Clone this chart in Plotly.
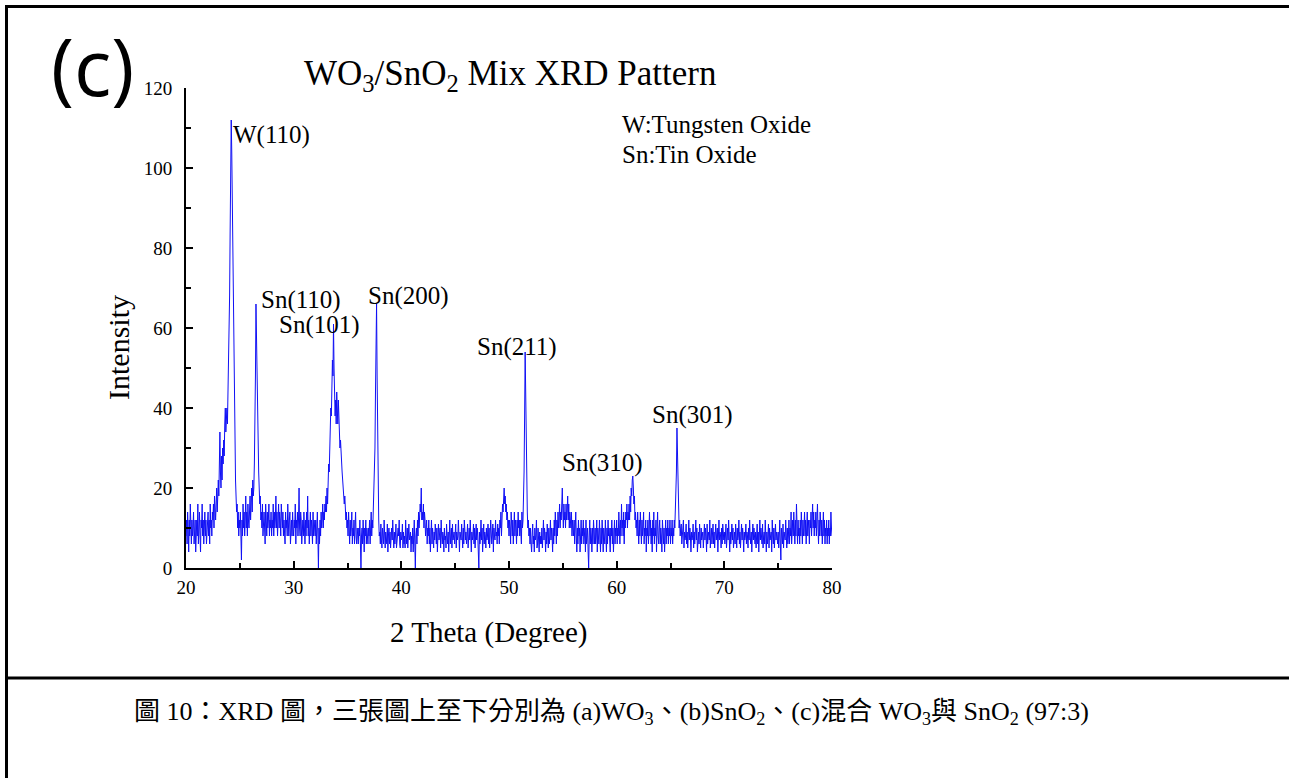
import plotly.graph_objects as go

# ---------------- data ----------------
# intensity sampled every 0.05 degree of 2-theta, one row per degree
two_theta_start = 20.0
two_theta_step = 0.05
intensity = [
    8, 12, 6, 14, 10, 4, 12, 8, 16, 10, 6, 12, 8, 10, 14, 6, 10, 12, 4, 10,          # 20
    12, 8, 16, 6, 10, 14, 8, 4, 12, 10, 16, 8, 12, 6, 10, 14, 8, 12, 6, 10,          # 21
    10, 14, 8, 12, 6, 16, 10, 12, 8, 14, 12, 16, 10, 18, 14, 12, 16, 20, 14, 18,     # 22
    22, 18, 26, 34, 24, 20, 28, 22, 30, 26, 32, 28, 36, 40, 34, 38, 40, 36, 44, 48,  # 23
    54, 68, 84, 100, 112, 104, 92, 78, 62, 48, 36, 28, 22, 18, 14, 16, 10, 14, 8, 12,  # 24
    10, 14, 6, 2, 12, 8, 16, 10, 14, 8, 12, 18, 10, 14, 8, 16, 12, 10, 14, 18,       # 25
    12, 16, 20, 14, 22, 18, 20, 26, 34, 48, 66, 56, 44, 36, 30, 24, 20, 16, 18, 12,  # 26
    14, 10, 16, 8, 12, 14, 10, 6, 16, 12, 8, 14, 10, 12, 16, 8, 12, 10, 14, 8,       # 27
    12, 10, 16, 8, 14, 10, 12, 18, 10, 14, 8, 12, 16, 10, 14, 12, 8, 16, 12, 10,     # 28
    14, 8, 12, 10, 6, 14, 10, 12, 8, 16, 10, 8, 12, 14, 6, 10, 12, 8, 14, 10,        # 29
    8, 12, 10, 16, 6, 12, 10, 14, 8, 12, 20, 10, 8, 14, 12, 6, 10, 12, 8, 14,        # 30
    10, 6, 12, 8, 14, 10, 18, 8, 12, 6, 10, 14, 8, 12, 10, 6, 14, 8, 12, 10,         # 31
    8, 12, 6, 10, 14, 8, 0, 10, 6, 12, 8, 14, 10, 12, 16, 10, 14, 12, 16, 14,        # 32
    18, 14, 20, 16, 22, 26, 24, 30, 34, 40, 38, 46, 52, 48, 61, 50, 44, 38, 42, 36,  # 33
    44, 40, 36, 42, 38, 34, 30, 32, 28, 26, 24, 22, 20, 18, 16, 18, 14, 12, 14, 10,  # 34
    12, 8, 14, 10, 6, 12, 8, 10, 14, 6, 10, 8, 12, 6, 10, 14, 8, 6, 10, 8,           # 35
    6, 10, 8, 12, 4, 0, 8, 10, 6, 12, 8, 4, 10, 8, 12, 6, 10, 8, 6, 10,              # 36
    8, 12, 6, 10, 14, 8, 12, 10, 16, 14, 20, 30, 44, 58, 66, 48, 30, 18, 12, 8,      # 37
    9, 6, 11, 7, 5, 10, 8, 6, 12, 7, 5, 9, 8, 6, 11, 4, 8, 10, 6, 9,                 # 38
    5, 8, 10, 7, 12, 8, 5, 9, 6, 8, 11, 5, 8, 7, 10, 8, 12, 6, 5, 9,                 # 39
    7, 8, 11, 5, 9, 6, 8, 5, 12, 8, 6, 10, 5, 8, 11, 7, 8, 9, 4, 8,                  # 40
    6, 10, 4, 8, 12, 6, 0, 8, 10, 6, 12, 8, 14, 10, 12, 16, 14, 20, 12, 14,          # 41
    12, 16, 10, 14, 12, 8, 10, 12, 6, 10, 8, 12, 6, 10, 4, 8, 12, 6, 10, 8,          # 42
    5, 9, 7, 11, 8, 6, 10, 4, 8, 11, 7, 8, 10, 5, 12, 8, 6, 9, 8, 4,                 # 43
    10, 7, 8, 5, 11, 8, 6, 9, 4, 8, 12, 6, 8, 10, 5, 11, 7, 8, 9, 6,                 # 44
    8, 11, 5, 9, 7, 8, 12, 6, 4, 9, 8, 7, 11, 8, 5, 10, 6, 12, 8, 7,                 # 45
    9, 6, 8, 11, 5, 8, 10, 7, 12, 8, 4, 9, 7, 8, 11, 6, 10, 5, 8, 11,                # 46
    7, 10, 8, 5, 0, 9, 6, 8, 12, 7, 10, 4, 8, 11, 6, 9, 8, 5, 10, 7,                 # 47
    8, 11, 6, 10, 5, 8, 12, 9, 6, 8, 11, 4, 10, 8, 7, 12, 8, 9, 6, 11,               # 48
    8, 10, 6, 12, 10, 14, 8, 12, 16, 14, 18, 20, 16, 18, 14, 16, 12, 14, 10, 12,     # 49
    8, 12, 10, 6, 14, 10, 8, 12, 6, 10, 14, 8, 12, 10, 6, 12, 8, 14, 10, 12,         # 50
    8, 12, 10, 6, 14, 10, 12, 16, 24, 38, 54, 44, 30, 20, 14, 10, 12, 8, 10, 6,      # 51
    10, 6, 4, 8, 11, 6, 8, 4, 10, 7, 8, 12, 5, 6, 10, 8, 4, 9, 6, 8,                 # 52
    6, 10, 5, 8, 12, 7, 10, 8, 4, 9, 6, 11, 8, 5, 10, 6, 8, 12, 7, 10,               # 53
    8, 4, 10, 6, 12, 8, 14, 10, 6, 12, 8, 14, 10, 12, 16, 10, 14, 12, 16, 20,        # 54
    14, 10, 16, 12, 14, 10, 16, 12, 14, 18, 12, 16, 10, 14, 12, 10, 14, 8, 12, 10,   # 55
    8, 12, 6, 10, 14, 8, 4, 10, 6, 12, 8, 10, 4, 8, 12, 6, 10, 8, 12, 6,             # 56
    8, 10, 4, 12, 6, 8, 10, 4, 0, 8, 12, 6, 10, 8, 4, 10, 6, 12, 8, 6,               # 57
    10, 6, 8, 12, 4, 10, 8, 6, 12, 8, 4, 10, 6, 12, 8, 4, 10, 8, 6, 12,              # 58
    8, 4, 10, 6, 12, 8, 10, 6, 4, 10, 8, 12, 6, 10, 4, 8, 12, 6, 10, 8,              # 59
    12, 6, 10, 8, 14, 10, 6, 12, 8, 16, 10, 12, 8, 14, 6, 12, 10, 14, 12, 16,        # 60
    10, 14, 12, 16, 12, 18, 14, 20, 18, 22, 23, 20, 16, 18, 12, 14, 10, 12, 8, 14,   # 61
    10, 6, 12, 8, 14, 10, 6, 12, 8, 10, 14, 6, 10, 8, 12, 4, 10, 8, 12, 6,           # 62
    10, 14, 8, 12, 6, 10, 4, 12, 8, 14, 6, 10, 8, 12, 4, 10, 14, 8, 6, 10,           # 63
    12, 6, 10, 8, 4, 12, 8, 6, 10, 4, 8, 12, 6, 10, 8, 12, 6, 10, 8, 12,             # 64
    6, 10, 8, 12, 6, 10, 8, 12, 10, 14, 18, 24, 35, 28, 20, 14, 10, 12, 8, 10,       # 65
    11, 6, 9, 8, 12, 5, 9, 7, 8, 11, 6, 9, 5, 8, 12, 7, 10, 8, 4, 9,                 # 66
    7, 8, 11, 5, 9, 6, 8, 12, 7, 10, 4, 8, 9, 6, 11, 8, 5, 10, 7, 8,                 # 67
    9, 5, 8, 11, 7, 10, 8, 4, 11, 6, 8, 9, 7, 12, 5, 8, 10, 6, 8, 11,                # 68
    6, 9, 5, 8, 11, 7, 8, 10, 4, 8, 12, 7, 9, 8, 5, 10, 6, 11, 8, 7,                 # 69
    9, 6, 8, 11, 5, 8, 10, 7, 12, 8, 4, 9, 6, 8, 11, 7, 10, 5, 8, 9,                 # 70
    6, 11, 8, 5, 10, 7, 8, 12, 6, 9, 5, 8, 11, 7, 10, 8, 4, 9, 7, 8,                 # 71
    11, 6, 9, 8, 5, 10, 7, 12, 8, 6, 9, 4, 8, 11, 7, 10, 8, 6, 9, 5,                 # 72
    8, 11, 6, 9, 4, 8, 12, 7, 10, 8, 6, 11, 5, 8, 9, 6, 12, 8, 4, 9,                 # 73
    6, 8, 11, 5, 10, 7, 8, 9, 4, 12, 8, 6, 10, 5, 8, 11, 7, 9, 8, 6,                 # 74
    9, 5, 8, 12, 6, 2, 10, 8, 6, 11, 5, 9, 8, 7, 12, 8, 5, 10, 6, 8,                 # 75
    12, 6, 10, 8, 14, 6, 10, 12, 8, 14, 10, 6, 12, 8, 16, 10, 6, 12, 8, 10,          # 76
    6, 12, 8, 14, 10, 6, 12, 8, 10, 14, 8, 12, 6, 10, 14, 8, 12, 10, 6, 12,          # 77
    10, 14, 8, 12, 16, 10, 14, 8, 12, 10, 14, 8, 12, 16, 10, 6, 12, 8, 14, 10,       # 78
    8, 12, 6, 10, 14, 8, 12, 6, 10, 8, 12, 6, 10, 8, 12, 6, 10, 8, 14, 10,           # 79
    8,                                                                               # 80
]
two_theta = [round(two_theta_start + i * two_theta_step, 3) for i in range(len(intensity))]

x_ticks = [20, 30, 40, 50, 60, 70, 80]
x_minor = [25, 35, 45, 55, 65, 75]
y_ticks = [0, 20, 40, 60, 80, 100, 120]
y_minor = [10, 30, 50, 70, 90, 110]

peak_labels = ["W(110)", "Sn(110)", "Sn(101)", "Sn(200)", "Sn(211)", "Sn(310)", "Sn(301)"]
peak_label_x = [24.15, 26.80, 28.45, 36.75, 46.85, 54.70, 63.05]
peak_label_y = [108.3, 67.0, 60.8, 68.0, 55.3, 26.3, 38.3]

legend_lines = ["W:Tungsten Oxide", "Sn:Tin Oxide"]
legend_x = 60.35
legend_y = [111.0, 103.3]

title_text = "WO<sub>3</sub>/SnO<sub>2</sub> Mix XRD Pattern"
x_title = "2 Theta (Degree)"
y_title = "Intensity"
panel_label = "(c)"
caption = ("圖 10：XRD 圖，三張圖上至下分別為 (a)WO<sub>3</sub>、(b)SnO<sub>2</sub>、"
           "(c)混合 WO<sub>3</sub>與 SnO<sub>2</sub> (97:3)")

# ---------------- layout geometry ----------------
W, H = 1289, 778
L, R, T, B = 186, 832, 88, 568   # plot-area pixel box


def px(xp):
    return (xp - L) / (R - L)


def py(yp):
    return (B - yp) / (B - T)


SERIF = "Liberation Serif"
tick_font = dict(family=SERIF, size=19, color="black")

fig = go.Figure()
fig.add_trace(go.Scatter(
    x=two_theta, y=intensity, mode="lines",
    line=dict(color="#1010f5", width=1), showlegend=False, hoverinfo="x+y",
))

annotations = []
for t, xx, yy in zip(peak_labels, peak_label_x, peak_label_y):
    annotations.append(dict(x=xx, y=yy, xref="x", yref="y", text=t, showarrow=False,
                            xanchor="left", yanchor="middle",
                            font=dict(family=SERIF, size=25, color="black")))
for t, yy in zip(legend_lines, legend_y):
    annotations.append(dict(x=legend_x, y=yy, xref="x", yref="y", text=t, showarrow=False,
                            xanchor="left", yanchor="middle",
                            font=dict(family=SERIF, size=25, color="black")))

annotations.append(dict(x=px(510), y=py(75), xref="paper", yref="paper", text=title_text,
                        showarrow=False, xanchor="center", yanchor="middle",
                        font=dict(family=SERIF, size=35, color="black")))
annotations.append(dict(x=px(489), y=py(632), xref="paper", yref="paper", text=x_title,
                        showarrow=False, xanchor="center", yanchor="middle",
                        font=dict(family=SERIF, size=29, color="black")))
annotations.append(dict(x=px(118), y=py(348), xref="paper", yref="paper", text=y_title,
                        showarrow=False, xanchor="center", yanchor="middle", textangle=-90,
                        font=dict(family=SERIF, size=30, color="black")))
annotations.append(dict(x=px(92), y=py(66), xref="paper", yref="paper", text=panel_label,
                        showarrow=False, xanchor="center", yanchor="middle",
                        font=dict(family="Open Sans", size=78, color="black")))
annotations.append(dict(x=px(132), y=py(713), xref="paper", yref="paper", text=caption,
                        showarrow=False, xanchor="left", yanchor="middle",
                        font=dict(family="Liberation Serif, Noto Sans CJK TC",
                                  size=26, color="black")))

shapes = [
    dict(type="line", xref="paper", yref="paper", x0=px(5), x1=px(W + 5), y0=py(6.5), y1=py(6.5),
         line=dict(color="black", width=3)),
    dict(type="line", xref="paper", yref="paper", x0=px(6.5), x1=px(6.5), y0=py(5), y1=py(H + 5),
         line=dict(color="black", width=3)),
    dict(type="line", xref="paper", yref="paper", x0=px(5), x1=px(W + 5), y0=py(678), y1=py(678),
         line=dict(color="black", width=3)),
]

fig.update_layout(
    width=W, height=H, autosize=False,
    font=dict(family=SERIF, size=19, color="black"),
    margin=dict(l=L, r=W - R, t=T, b=H - B, pad=0),
    paper_bgcolor="white", plot_bgcolor="white",
    annotations=annotations,
    shapes=shapes,
    showlegend=False,
)
fig.update_xaxes(
    range=[20, 80], tickmode="array", tickvals=x_ticks, ticktext=[str(v) for v in x_ticks],
    showgrid=False, zeroline=False, showline=True, linecolor="black", linewidth=2,
    ticks="inside", ticklen=7, tickwidth=2, tickcolor="black", tickfont=tick_font,
    ticklabelstandoff=1,
    minor=dict(ticks="inside", ticklen=5, tickwidth=2, tickcolor="black", tickvals=x_minor),
)
fig.update_yaxes(
    range=[0, 120], tickmode="array", tickvals=y_ticks, ticktext=[str(v) for v in y_ticks],
    showgrid=False, zeroline=False, showline=True, linecolor="black", linewidth=2,
    ticks="inside", ticklen=7, tickwidth=2, tickcolor="black", tickfont=tick_font,
    ticklabelstandoff=8,
    minor=dict(ticks="inside", ticklen=5, tickwidth=2, tickcolor="black", tickvals=y_minor),
)

fig.write_html("out.html")
